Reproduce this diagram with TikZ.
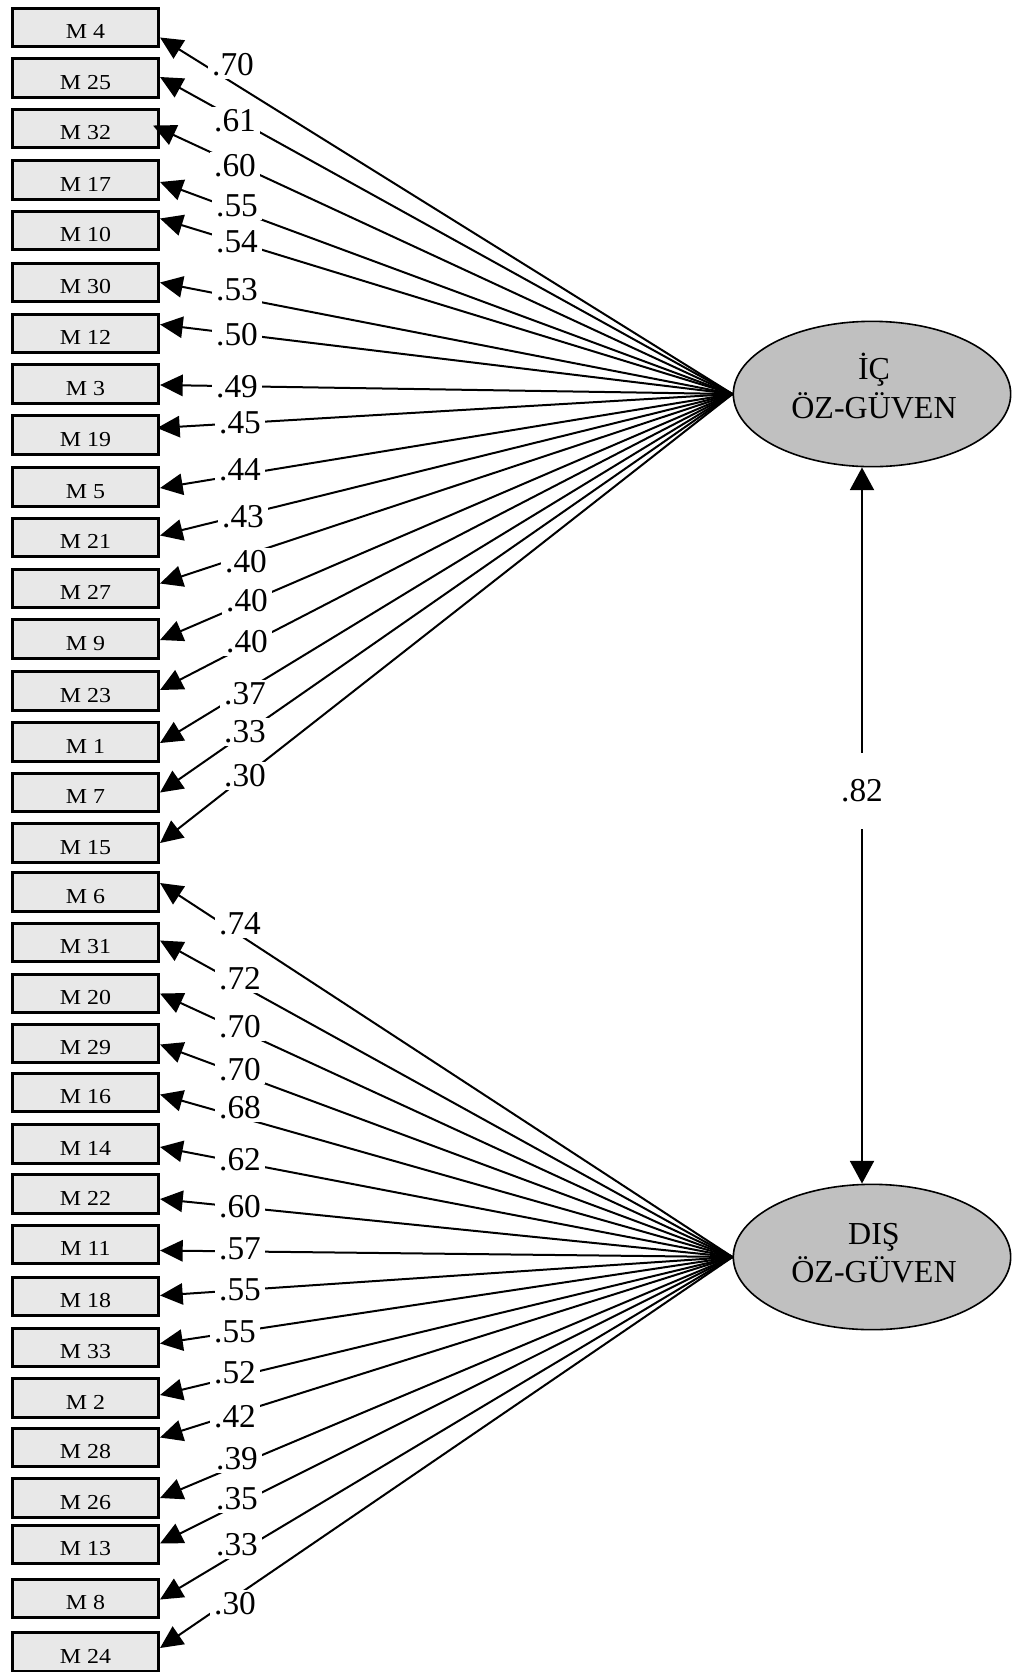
\documentclass[tikz,border=0pt]{standalone}
\usepackage{fontspec}
\setmainfont{Liberation Serif}
\usetikzlibrary{arrows.meta,shapes.geometric}
\definecolor{boxgray}{RGB}{232,232,232}
\definecolor{ellgray}{RGB}{192,192,192}
\begin{document}
\begin{tikzpicture}[x=0.75pt,y=-0.75pt,
  itembox/.style={draw=black,line width=2.3pt,fill=boxgray,minimum width=109.5pt,
    minimum height=29pt,inner sep=0pt,text height=17pt,text depth=0pt,
    font=\fontsize{16}{17}\selectfont},
  factor/.style={ellipse,draw=black,line width=1.2pt,fill=ellgray,minimum width=208pt,
    minimum height=109pt,inner sep=0pt},
  factortext/.style={align=center,inner sep=0pt,font=\fontsize{24}{29}\selectfont},
  loading/.style={line width=1.5pt,-{Triangle[length=17pt,width=16pt]}},
  coef/.style={fill=white,inner xsep=3pt,inner ysep=2pt,font=\fontsize{25}{27}\selectfont},
  corr/.style={line width=1.5pt,{Triangle[length=17pt,width=18pt]}-{Triangle[length=17pt,width=18pt]}}
]
\useasboundingbox (0,0) rectangle (1013,1672);
\fill[white] (0,0) rectangle (1013,1672);

% factors
\node[factor] (ic) at (872,394) {};
\node[factortext] (ictext) at (874,386) {İÇ\\ÖZ-GÜVEN};
\node[factor] (dis) at (872,1257) {};
\node[factortext] (distext) at (874,1253) {DIŞ\\ÖZ-GÜVEN};

% items of first factor: name/label/center y/tip dy/tip dx/label x/label y
\foreach \n/\lab/\yc/\dy/\dx/\lx/\ly in {
  4/.70/27.5/10/0/233/65,
  25/.61/78/-1/0/235/121,
  32/.60/128.5/-3/-7/235/166,
  17/.55/180/2/0/237/206,
  10/.54/230.5/-12/0/237/242,
  30/.53/282.5/0/0/237/290,
  12/.50/333.5/-9/0/237/335,
  3/.49/384/1/0/237/387,
  19/.45/435/-7/-3/240/423,
  5/.44/487/1/0/240/470,
  21/.43/537.5/-2/0/243/517,
  27/.40/588.5/-5/0/246/562,
  9/.40/639/1/0/247/601,
  23/.40/691/-1/0/247/642,
  1/.37/742/1/0/245/694,
  7/.33/792.5/0/0/245/732,
  15/.30/843/0/0/245/776}{
  \node[itembox] (m\n) at (85.5,\yc) {\scalebox{1.12}[1]{M \n}};
  \draw[loading] (ic.west) -- ([xshift=\dx*0.75pt,yshift=-\dy*0.75pt]m\n.east);
  \node[coef] at (\lx,\ly) {\lab};
}

% items of second factor
\foreach \n/\lab/\yc/\dy/\dx/\lx/\ly in {
  6/.74/892/-9/0/240/924,
  31/.72/942.5/-2/0/240/979,
  20/.70/993.5/0/0/240/1027,
  29/.70/1043.5/1/0/240/1070,
  16/.68/1092.5/2/0/240/1108,
  14/.62/1144/3/0/240/1160,
  22/.60/1194/5/0/240/1207,
  11/.57/1244.5/6/0/240/1249,
  18/.55/1296.5/-1/0/240/1290,
  33/.55/1347.5/-4/0/235/1332,
  2/.52/1398/-3/0/235/1373,
  28/.42/1447.5/-10/0/235/1417,
  26/.39/1498/0/0/237/1459,
  13/.35/1544.5/-1/0/237/1499,
  8/.33/1598.5/1/0/237/1545,
  24/.30/1652/-4/0/235/1604}{
  \node[itembox] (m\n) at (85.5,\yc) {\scalebox{1.12}[1]{M \n}};
  \draw[loading] (dis.west) -- ([xshift=\dx*0.75pt,yshift=-\dy*0.75pt]m\n.east);
  \node[coef] at (\lx,\ly) {\lab};
}

% correlation between factors
\draw[corr] ([xshift=-7.5pt]ic.south) -- ([xshift=-7.5pt]dis.north);
\node[coef,inner ysep=20pt] (r) at (862,791) {.82};
\end{tikzpicture}
\end{document}
